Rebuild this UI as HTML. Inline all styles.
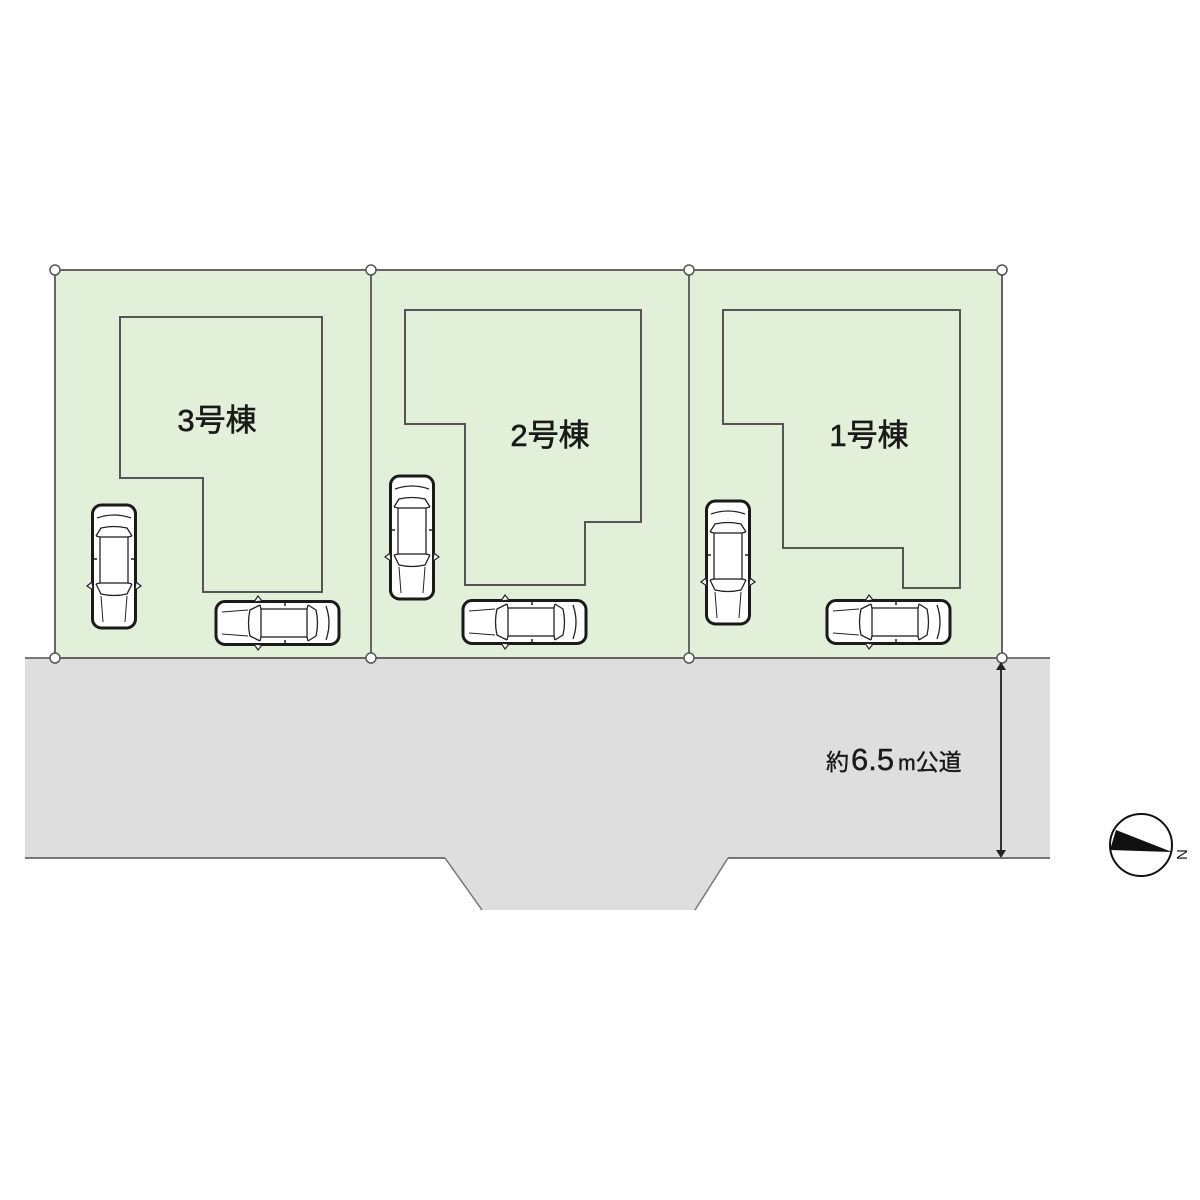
<!DOCTYPE html>
<html><head><meta charset="utf-8"><style>
html,body{margin:0;padding:0;background:#fff;}
svg{display:block}
text{font-family:"Liberation Sans","Noto Sans CJK JP",sans-serif;fill:#1a1a1a}
</style></head><body>
<svg width="1200" height="1200" viewBox="0 0 1200 1200" xmlns="http://www.w3.org/2000/svg">
<defs>
<g id="car">
  <rect x="1.5" y="1" width="43" height="123" rx="9" fill="#fff" stroke="#1a1a1a" stroke-width="3"/>
  <path d="M6 14 Q23 8 40 14" fill="none" stroke="#222" stroke-width="1.3"/>
  <path d="M5 32 L10 24 Q23 21 36 24 L41 32" fill="none" stroke="#222" stroke-width="1.3"/>
  <rect x="9" y="33" width="28" height="46" fill="#fff" stroke="#222" stroke-width="1.3"/>
  <path d="M5 32 L9 33 M41 32 L37 33 M5 80 L9 79 M41 80 L37 79" stroke="#222" stroke-width="1.3"/>
  <path d="M5 80 L10 90 Q23 93 36 90 L41 80" fill="none" stroke="#222" stroke-width="1.3"/>
  <path d="M10 92 L12 118 M36 92 L34 118" stroke="#222" stroke-width="1"/>
  <path d="M1 78 L-4 82 L2 86 Z M45 78 L50 82 L44 86 Z" fill="#fff" stroke="#222" stroke-width="1.2"/>
  <path d="M3 55 L6 55 M43 55 L40 55" stroke="#222" stroke-width="1.5"/>
</g>
</defs>
<path d="M25 658 L1050 658 L1050 858 L728 858 L695 910 L482 910 L445 858 L25 858 Z" fill="#dedede"/>
<line x1="25" y1="658" x2="1050" y2="658" stroke="#777" stroke-width="2"/>
<line x1="25" y1="858" x2="445" y2="858" stroke="#777" stroke-width="2"/>
<line x1="728" y1="858" x2="1050" y2="858" stroke="#777" stroke-width="2"/>
<line x1="445" y1="858" x2="482" y2="910" stroke="#777" stroke-width="1.5"/>
<line x1="728" y1="858" x2="695" y2="910" stroke="#777" stroke-width="1.5"/>
<rect x="55" y="270" width="947" height="388" fill="#e2efd9" stroke="#666" stroke-width="2"/>
<line x1="371" y1="270" x2="371" y2="658" stroke="#666" stroke-width="2"/>
<line x1="689" y1="270" x2="689" y2="658" stroke="#666" stroke-width="2"/>
<g fill="none" stroke="#555" stroke-width="2">
<path d="M120 317 L322 317 L322 592 L203 592 L203 478 L120 478 Z"/>
<path d="M405 310 L641 310 L641 522 L585 522 L585 585 L465 585 L465 424 L405 424 Z"/>
<path d="M723 310 L960 310 L960 588 L903 588 L903 548 L783 548 L783 424 L723 424 Z"/>
</g>
<g fill="#fff" stroke="#555" stroke-width="1.5">
<circle cx="55" cy="270" r="5"/><circle cx="371" cy="270" r="5"/><circle cx="689" cy="270" r="5"/><circle cx="1002" cy="270" r="5"/>
<circle cx="55" cy="658" r="5"/><circle cx="371" cy="658" r="5"/><circle cx="689" cy="658" r="5"/><circle cx="1002" cy="658" r="5"/>
</g>
<g stroke="#1a1a1a" stroke-width="0.6">
<text x="217" y="431" font-size="31" text-anchor="middle">3号棟</text>
<text x="550" y="446" font-size="31" text-anchor="middle">2号棟</text>
<text x="869" y="446" font-size="31" text-anchor="middle">1号棟</text>
</g>
<use href="#car" transform="translate(91,504)"/>
<use href="#car" transform="translate(389,475)"/>
<use href="#car" transform="translate(705,500)"/>
<use href="#car" transform="translate(340,600) rotate(90)"/>
<use href="#car" transform="translate(587,599) rotate(90)"/>
<use href="#car" transform="translate(951,599) rotate(90)"/>
<line x1="1001" y1="665" x2="1001" y2="853" stroke="#333" stroke-width="2"/>
<path d="M996 670 L1006 670 L1001 662 Z M996 850 L1006 850 L1001 858 Z" fill="#222"/>
<text x="826" y="770" font-size="23" stroke="#1a1a1a" stroke-width="0.4">約<tspan font-size="31" dx="2">6.5</tspan><tspan font-size="21" dx="4">m</tspan>公道</text>
<circle cx="1141" cy="845" r="31" fill="#fff" stroke="#111" stroke-width="2"/>
<path d="M1116 830 L1110 850 L1172 852 Z" fill="#111"/>
<text x="1175" y="858" font-size="15" transform="rotate(-90 1182 853)">N</text>
</svg>
</body></html>
